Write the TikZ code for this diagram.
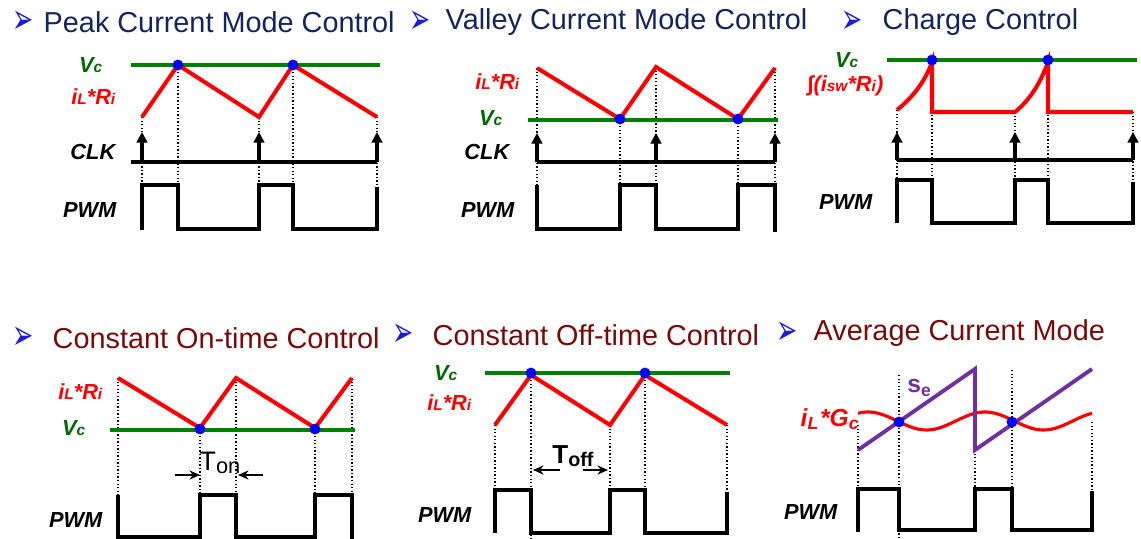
\documentclass[tikz,border=0pt]{standalone}
\usepackage{fontspec}
\setmainfont{Liberation Sans}
\newfontfamily\bulletfont{DejaVu Sans}
\usetikzlibrary{arrows.meta}
\definecolor{TitleNavy}{HTML}{14245C}
\definecolor{TitleMaroon}{HTML}{7A0A0A}
\definecolor{BulletBlue}{HTML}{1A1AE6}
\definecolor{RampRed}{HTML}{FF0000}
\definecolor{CtrlGreen}{HTML}{008000}
\definecolor{LabelGreen}{HTML}{006A00}
\definecolor{CrossBlue}{HTML}{0000FF}
\definecolor{SlopePurple}{HTML}{7030A0}
\newcommand{\lowpart}[1]{{\fontsize{4.4}{5}\selectfont #1}}
\newcommand{\headmark}{\scalebox{0.6}[1]{➢}}
\tikzset{
  chart/.style={x=0.01cm,y=-0.01cm},
  heading/.style={anchor=west,inner sep=0pt,font=\fontsize{8.2}{9}\selectfont},
  bullet/.style={inner sep=0pt,text=BulletBlue,font=\bulletfont\fontsize{12}{13}\selectfont},
  signal/.style={anchor=east,inner sep=0pt,font=\bfseries\itshape\fontsize{6.2}{7}\selectfont},
  ramp/.style={draw=RampRed,line width=1.15pt},
  ctrl/.style={draw=CtrlGreen,line width=1.1pt},
  pulse/.style={draw=black,line width=1pt},
  guide/.style={draw=black,dash pattern=on 0.4pt off 0.6pt,line width=0.3pt},
  tick/.style={draw=black,line width=1pt,-{Triangle[length=3pt,width=3pt]}},
  cross/.style={circle,fill=CrossBlue,inner sep=0pt,minimum size=3.1pt},
  span/.style={draw=black,line width=0.5pt,-{Stealth[length=3pt,width=2.6pt]}},
}
\begin{document}
\begin{tikzpicture}[chart]
  \useasboundingbox (0,0) rectangle (1141,539);

  % peak current mode
  \node[bullet] (b1) at (23,22) {\headmark};
  \node[heading,text=TitleNavy] (t1) at (43,22) {Peak Current Mode Control};
  \node[signal,text=LabelGreen] (vc1) at (103,65) {V\lowpart{c}};
  \node[signal,text=RampRed] (il1) at (116,97) {i\lowpart{L}*R\lowpart{i}};
  \node[signal] (clk1) at (116,152) {CLK};
  \node[signal] (pwm1) at (117,210) {PWM};
  \draw[guide] (142,117) -- (142,185);
  \draw[guide] (178,65) -- (178,185);
  \draw[guide] (259,117) -- (259,185);
  \draw[guide] (293,65) -- (293,185);
  \draw[guide] (377,117) -- (377,185);
  \draw[ctrl] (131,65) -- (380,65);
  \draw[ramp] (142,117) -- (178,65) -- (259,117) -- (293,65) -- (377,117);
  \node[cross] (d1a) at (178,65) {};
  \node[cross] (d1b) at (293,65) {};
  \draw[pulse] (131,162) -- (377,162);
  \draw[tick] (142,162) -- (142,132);
  \draw[tick] (259,162) -- (259,132);
  \draw[tick] (377,162) -- (377,132);
  \draw[pulse] (142,230) -- (142,185) -- (178,185) -- (178,229) -- (259,229) -- (259,185)
    -- (293,185) -- (293,229) -- (377,229) -- (377,187);

  % valley current mode
  \node[bullet] (b2) at (420,22) {\headmark};
  \node[heading,text=TitleNavy] (t2) at (445,22) {Valley Current Mode Control};
  \node[signal,text=RampRed] (il2) at (520,82) {i\lowpart{L}*R\lowpart{i}};
  \node[signal,text=LabelGreen] (vc2) at (503,118) {V\lowpart{c}};
  \node[signal] (clk2) at (510,152) {CLK};
  \node[signal] (pwm2) at (515,210) {PWM};
  \draw[guide] (537,68) -- (537,185);
  \draw[guide] (620,119) -- (620,185);
  \draw[guide] (656,67) -- (656,185);
  \draw[guide] (738,119) -- (738,185);
  \draw[guide] (775,68) -- (775,185);
  \draw[ctrl] (528,120) -- (778,120);
  \draw[ramp] (537,68) -- (620,119) -- (656,67) -- (738,119) -- (775,68);
  \node[cross] (d2a) at (620,119) {};
  \node[cross] (d2b) at (738,119) {};
  \draw[pulse] (537,162) -- (775,162);
  \draw[tick] (537,162) -- (537,133);
  \draw[tick] (656,162) -- (656,133);
  \draw[tick] (775,162) -- (775,133);
  \draw[pulse] (537,185) -- (537,229) -- (620,229) -- (620,185) -- (656,185) -- (656,229)
    -- (738,229) -- (738,185) -- (775,185) -- (775,232);

  % charge control
  \node[bullet] (b3) at (852,22) {\headmark};
  \node[heading,text=TitleNavy] (t3) at (882,22) {Charge Control};
  \node[signal,text=LabelGreen] (vc3) at (859,60) {V\lowpart{c}};
  \node[signal,text=RampRed] (iq3) at (884,86) {∫(i\lowpart{sw}*R\lowpart{i})};
  \node[signal] (pwm3) at (873,202) {PWM};
  \draw[guide] (897,110) -- (897,180);
  \draw[guide] (932,62) -- (932,180);
  \draw[guide] (1015,112) -- (1015,180);
  \draw[guide] (1048,62) -- (1048,180);
  \draw[guide] (1133,112) -- (1133,180);
  \draw[ctrl] (887,60) -- (1137,60);
  \draw[ramp] (897,110) .. controls (912,98) and (925,82) .. (932,62) -- (932,112) -- (1015,112)
    .. controls (1030,100) and (1041,82) .. (1048,62) -- (1048,112) -- (1133,112);
  \node[cross] (d3a) at (932,60) {};
  \node[cross] (d3b) at (1048,60) {};
  \draw[pulse] (897,160) -- (1133,160);
  \draw[tick] (897,160) -- (897,132);
  \draw[tick] (1015,160) -- (1015,132);
  \draw[tick] (1133,160) -- (1133,132);
  \draw[pulse] (897,223) -- (897,180) -- (932,180) -- (932,223) -- (1015,223) -- (1015,180)
    -- (1048,180) -- (1048,223) -- (1133,223) -- (1133,182);

  % constant on-time
  \node[bullet] (b4) at (23,338) {\headmark};
  \node[heading,text=TitleMaroon] (t4) at (52,338) {Constant On-time Control};
  \node[signal,text=RampRed] (il4) at (103,392) {i\lowpart{L}*R\lowpart{i}};
  \node[signal,text=LabelGreen] (vc4) at (86,428) {V\lowpart{c}};
  \node[signal] (pwm4) at (103,520) {PWM};
  \draw[guide] (118,378) -- (118,495);
  \draw[guide] (200,429) -- (200,495);
  \draw[guide] (236,378) -- (236,495);
  \draw[guide] (315,429) -- (315,495);
  \draw[guide] (352,378) -- (352,495);
  \draw[ctrl] (110,430) -- (355,430);
  \draw[ramp] (118,378) -- (200,428) -- (236,378) -- (315,428) -- (352,378);
  \node[cross] (d4a) at (200,429) {};
  \node[cross] (d4b) at (315,429) {};
  \node[inner sep=0pt,font=\fontsize{7.6}{8}\selectfont] (ton) at (220,463) {T\raisebox{-0.8pt}{\fontsize{6.2}{7}\selectfont on}};
  \coordinate (ton-l) at (175,475);
  \coordinate (ton-r) at (263,475);
  \draw[span] (ton-l) -- (d4a |- ton-l);
  \draw[span] (ton-r) -- (238,475);
  \draw[pulse] (118,495) -- (118,537) -- (200,537) -- (200,495) -- (236,495) -- (236,537)
    -- (315,537) -- (315,495) -- (352,495) -- (352,539);

  % constant off-time
  \node[bullet] (b5) at (403,335) {\headmark};
  \node[heading,text=TitleMaroon] (t5) at (432,335) {Constant Off-time Control};
  \node[signal,text=LabelGreen] (vc5) at (458,373) {V\lowpart{c}};
  \node[signal,text=RampRed] (il5) at (472,403) {i\lowpart{L}*R\lowpart{i}};
  \node[signal] (pwm5) at (472,515) {PWM};
  \draw[guide] (495,425) -- (495,490);
  \draw[guide] (531,373) -- (531,539);
  \draw[guide] (610,425) -- (610,490);
  \draw[guide] (645,373) -- (645,490);
  \draw[guide] (727,425) -- (727,490);
  \draw[ctrl] (485,373) -- (730,373);
  \draw[ramp] (495,425) -- (531,375) -- (610,425) -- (645,375) -- (727,425);
  \node[cross] (d5a) at (531,373) {};
  \node[cross] (d5b) at (645,373) {};
  \node[inner sep=0pt,font=\bfseries\fontsize{7.4}{8}\selectfont] (toff) at (573,456) {T\raisebox{-1pt}{\fontsize{5.6}{6}\selectfont off}};
  \coordinate (toff-l) at (560,470);
  \coordinate (toff-r) at (583,470);
  \draw[span] (toff-l) -- (533,470);
  \draw[span] (toff-r) -- (608,470);
  \draw[pulse] (495,533) -- (495,490) -- (531,490) -- (531,533) -- (610,533) -- (610,490)
    -- (645,490) -- (645,533) -- (727,533) -- (727,492);

  % average current mode
  \node[bullet] (b6) at (787,333) {\headmark};
  \node[heading,text=TitleMaroon] (t6) at (813,333) {Average Current Mode};
  \node[inner sep=0pt,text=SlopePurple,font=\bfseries\fontsize{7}{8}\selectfont] (se6) at (920,388) {s\textsubscript{e}};
  \node[signal,text=RampRed,font=\bfseries\itshape\fontsize{7}{8}\selectfont] (ig6) at (861,419) {i\textsubscript{L}*G\textsubscript{c}};
  \node[signal] (pwm6) at (838,512) {PWM};
  \draw[guide] (858,425) -- (858,489);
  \draw[guide] (899,375) -- (899,539);
  \draw[guide] (975,450) -- (975,489);
  \draw[guide] (1012,370) -- (1012,489);
  \draw[guide] (1092,422) -- (1092,489);
  \draw[ramp,line width=0.9pt] plot[domain=858:1092,samples=80,smooth] (\x,{421-9*cos(3.0769*(\x-868))});
  \draw[draw=SlopePurple,line width=1.1pt] (858,450) -- (975,369) -- (975,450) -- (1092,369);
  \node[cross] (d6a) at (899,422) {};
  \node[cross] (d6b) at (1012,422) {};
  \draw[pulse] (858,532) -- (858,489) -- (899,489) -- (899,530) -- (975,530) -- (975,489)
    -- (1012,489) -- (1012,530) -- (1092,530) -- (1092,491);
\end{tikzpicture}
\end{document}
